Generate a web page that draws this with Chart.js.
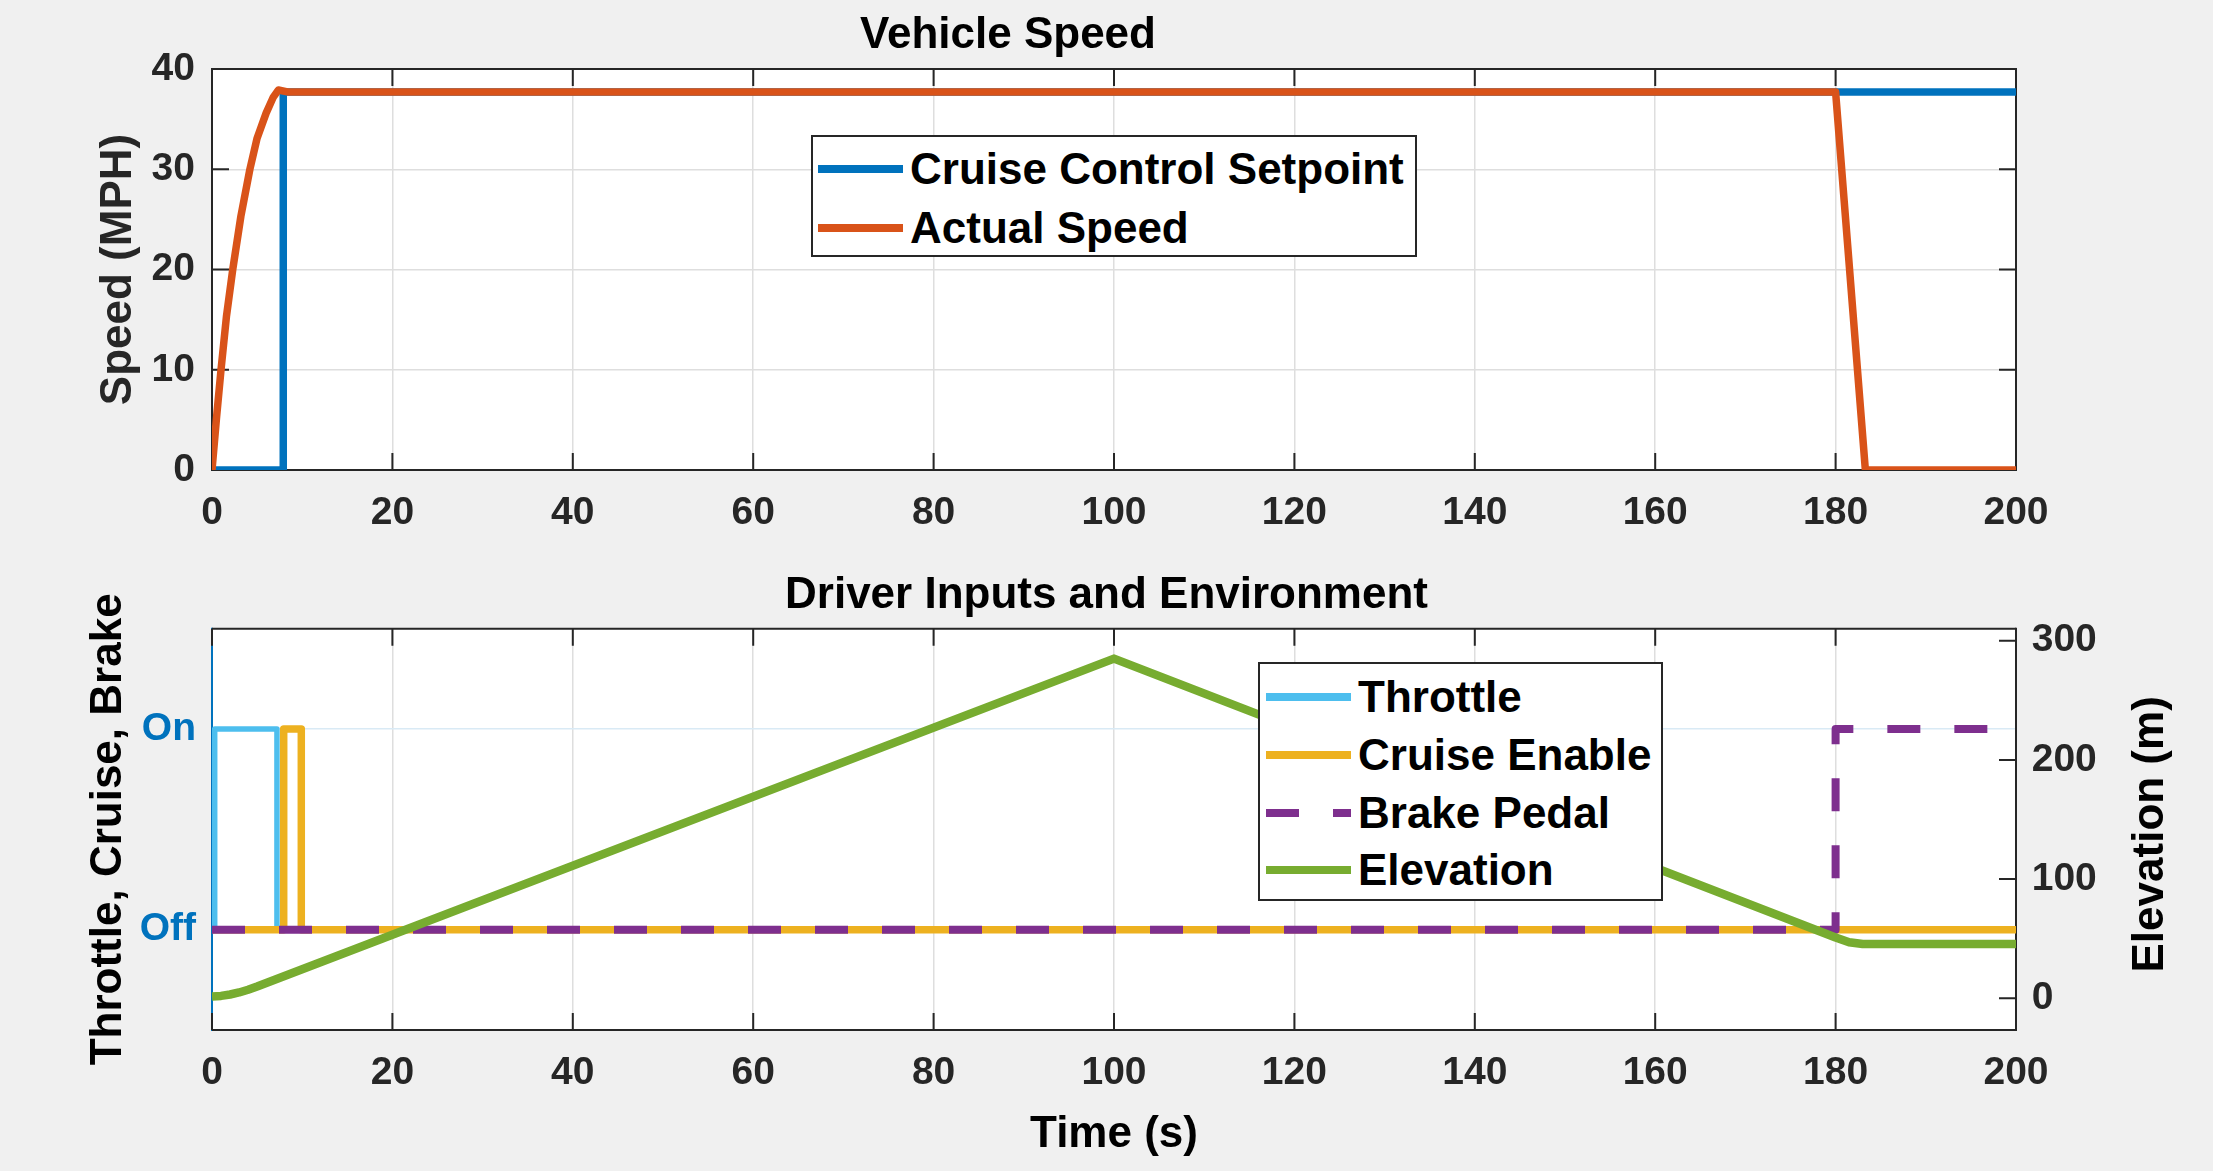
<!DOCTYPE html>
<html lang="en">
<head>
<meta charset="utf-8"/>
<title>Vehicle Speed and Driver Inputs</title>
<script src="https://cdn.jsdelivr.net/npm/chart.js@4.4.1/dist/chart.umd.min.js"></script>
<style>
  html, body { margin: 0; padding: 0; background: #f0f0f0; }
  body { width: 2213px; height: 1171px; position: relative; overflow: hidden;
         font-family: 'Liberation Sans', Arial, Helvetica, sans-serif; }
  canvas { position: absolute; left: 0; }
  #top { top: 0; }
  #bottom { top: 545px; }
  .lgbox { position: absolute; background: #fff; border: 2px solid #262626; box-sizing: border-box; }
  .lgline { position: absolute; height: 8px; }
  .lgtext { position: absolute; height: 52px; font-size: 44px; font-weight: bold; line-height: 52px;
            color: #000; white-space: nowrap; }
</style>
</head>
<body>
<canvas id="top" width="2213" height="545"></canvas>
<canvas id="bottom" width="2213" height="626"></canvas>
<script>
// ---- data ----
// top: vehicle speed (MPH) vs time (s)
const setpointTime = [0, 7.9, 7.9, 200];
const setpointSpeed = [0, 0, 37.7, 37.7];
const actualTime = [0, 0.5, 1, 1.6, 2.3, 3.2, 4.2, 5, 6, 6.8, 7.35, 8.5, 180, 183.3, 200];
const actualSpeed = [0, 5.2, 10, 15.3, 20, 25.3, 30, 33.1, 35.6, 37.2, 37.9, 37.7, 37.7, 0, 0];

// bottom: driver inputs (0 = Off, 1 = On) and elevation (m)
const throttleTime = [0.3, 0.3, 7.2, 7.2, 200];
const throttle = [0, 1, 1, 0, 0];
const cruiseTime = [0, 7.95, 7.95, 9.9, 9.9, 200];
const cruise = [0, 0, 1, 1, 0, 0];
const brakeTime = [0, 180, 180, 200];
const brake = [0, 0, 1, 1];
const elevTime = [0, 1, 2, 3, 4, 5, 100, 180, 181.5, 183, 200];
const elevation = [1.5, 2, 3.2, 4.9, 7.2, 9.9, 285, 51, 47, 45.5, 45.5];

// ticks
const onOffTicks = [0, 1];
const onOffLabels = ['Off', 'On'];
const elevTicks = [0, 100, 200, 300];

const FONT = "'Liberation Sans', Arial, Helvetica, sans-serif";
const DARK = '#262626';
const AXBLUE = '#0072BD';
const GRID = '#dedede';

Chart.defaults.font.family = FONT;
Chart.defaults.font.weight = 'bold';

function pts(xs, ys) {
  return xs.map((x, i) => ({ x: x, y: ys[i] }));
}

// white axes background, box and inward ticks like matlab
const matlabAxes = {
  id: 'matlabAxes',
  beforeDraw(chart) {
    const { ctx, chartArea: a } = chart;
    ctx.save();
    ctx.fillStyle = '#ffffff';
    ctx.fillRect(a.left, a.top, a.right - a.left, a.bottom - a.top);
    ctx.restore();
  },
  beforeDatasetsDraw(chart, args, opts) {
    const { ctx, chartArea: a, scales } = chart;
    const tl = 17;
    const seg = (x1, y1, x2, y2) => { ctx.moveTo(x1, y1); ctx.lineTo(x2, y2); };
    ctx.save();
    ctx.lineWidth = 2;

    const side = (scale, x, dir, color) => {
      ctx.strokeStyle = color;
      ctx.beginPath();
      scale.ticks.forEach(t => {
        const py = scale.getPixelForValue(t.value);
        seg(x, py, x + dir * tl, py);
      });
      seg(x, a.top - 1, x, a.bottom + 1);
      ctx.stroke();
    };
    side(scales[opts.left], a.left, 1, opts.leftColor);
    side(scales[opts.right], a.right, -1, opts.rightColor);

    ctx.strokeStyle = DARK;
    ctx.beginPath();
    scales.x.ticks.forEach(t => {
      const px = scales.x.getPixelForValue(t.value);
      seg(px, a.bottom, px, a.bottom - tl);
      seg(px, a.top, px, a.top + tl);
    });
    seg(a.left, a.top, a.right, a.top);
    seg(a.left, a.bottom, a.right, a.bottom);
    ctx.stroke();
    ctx.restore();
  },
  afterDraw(chart, args, opts) {
    if (!opts.rightTitle) return;
    const { ctx } = chart;
    const s = chart.scales[opts.right];
    ctx.save();
    ctx.translate(s.left + opts.rightTitleOffset, (s.top + s.bottom) / 2 + 5);
    ctx.rotate(-Math.PI / 2);
    ctx.font = 'bold 44px ' + FONT;
    ctx.fillStyle = '#000';
    ctx.textAlign = 'center';
    ctx.textBaseline = 'middle';
    ctx.fillText(opts.rightTitle, 0, 0);
    ctx.restore();
  }
};

const tickFont = { size: 39, weight: 'bold' };
const labelFont = { size: 44, weight: 'bold' };

function xScale(height, title, titlePad) {
  return {
    type: 'linear', min: 0, max: 200,
    ticks: { stepSize: 20, padding: 20, color: DARK, font: tickFont, maxRotation: 0, autoSkip: false },
    grid: { color: GRID, lineWidth: 1.5, drawTicks: false },
    border: { display: false },
    title: { display: !!title, text: title, color: '#000', font: labelFont, padding: { top: 0, bottom: titlePad } },
    afterFit: s => { s.height = height; }
  };
}

const lineDefaults = { pointRadius: 0, fill: false, tension: 0, borderJoinStyle: 'round', borderCapStyle: 'butt' };

// ---- top chart ----
const topChart = new Chart(document.getElementById('top'), {
  type: 'line',
  data: {
    datasets: [
      Object.assign({ label: 'Cruise Control Setpoint', data: pts(setpointTime, setpointSpeed),
        borderColor: '#0072BD', borderWidth: 7.5, order: 1 }, lineDefaults),
      Object.assign({ label: 'Actual Speed', data: pts(actualTime, actualSpeed),
        borderColor: '#D95319', borderWidth: 7.5, order: 0 }, lineDefaults)
    ]
  },
  options: {
    responsive: false, animation: false, devicePixelRatio: 1, events: [],
    layout: { padding: { left: 0, right: 197, top: 0, bottom: 0 } },
    scales: {
      x: xScale(75),
      y: {
        min: 0, max: 40,
        ticks: { stepSize: 10, padding: 17, color: DARK, font: tickFont },
        grid: { color: GRID, lineWidth: 1.5, drawTicks: false },
        border: { display: false },
        title: { display: true, text: 'Speed (MPH)', color: DARK, font: labelFont, padding: { top: 92.6, bottom: 0 } },
        afterFit: s => { s.width = 212; }
      }
    },
    plugins: {
      legend: { display: false },
      tooltip: { enabled: false },
      title: { display: true, text: 'Vehicle Speed', color: '#000', font: labelFont, padding: { top: 9.1, bottom: 7.1 } },
      matlabAxes: { left: 'y', right: 'y', leftColor: DARK, rightColor: DARK }
    }
  },
  plugins: [matlabAxes]
});

// ---- bottom chart ----
const bottomChart = new Chart(document.getElementById('bottom'), {
  type: 'line',
  data: {
    datasets: [
      Object.assign({ label: 'Throttle', data: pts(throttleTime, throttle),
        borderColor: '#4DBEEE', borderWidth: 5.5, yAxisID: 'y', order: 3 }, lineDefaults),
      Object.assign({ label: 'Cruise Enable', data: pts(cruiseTime, cruise),
        borderColor: '#EDB120', borderWidth: 7.5, yAxisID: 'y', order: 2 }, lineDefaults),
      Object.assign({ label: 'Brake Pedal', data: pts(brakeTime, brake),
        borderColor: '#7E2F8E', borderWidth: 8, borderDash: [33, 34], yAxisID: 'y', order: 1 }, lineDefaults),
      Object.assign({ label: 'Elevation', data: pts(elevTime, elevation),
        borderColor: '#77AC30', borderWidth: 8.5, yAxisID: 'y2', order: 0 }, lineDefaults)
    ]
  },
  options: {
    responsive: false, animation: false, devicePixelRatio: 1, events: [],
    layout: { padding: 0 },
    scales: {
      x: xScale(141, 'Time (s)', 9.8),
      y: {
        position: 'left', min: -0.5, max: 1.5,
        afterBuildTicks: s => { s.ticks = onOffTicks.map(v => ({ value: v })); },
        ticks: { padding: 16, color: AXBLUE, font: tickFont, callback: (v, i) => onOffLabels[i] },
        grid: { color: '#d9eaf5', lineWidth: 1.5, drawTicks: false },
        border: { display: false },
        title: { display: true, text: 'Throttle, Cruise, Brake', color: '#000', font: labelFont, padding: { top: 82.6, bottom: 0 } },
        afterFit: s => { s.width = 212; }
      },
      y2: {
        position: 'right', min: -26.6, max: 310.1,
        afterBuildTicks: s => { s.ticks = elevTicks.map(v => ({ value: v })); },
        ticks: { padding: 15.7, color: DARK, font: tickFont },
        grid: { display: false, drawTicks: false },
        border: { display: false },
        afterFit: s => { s.width = 197; }
      }
    },
    plugins: {
      legend: { display: false },
      tooltip: { enabled: false },
      title: { display: true, text: 'Driver Inputs and Environment', color: '#000', font: labelFont, padding: { top: 24.1, bottom: 6.8 } },
      matlabAxes: { left: 'y', right: 'y2', leftColor: AXBLUE, rightColor: DARK,
                    rightTitle: 'Elevation (m)', rightTitleOffset: 134.5 }
    }
  },
  plugins: [matlabAxes]
});

// ---- legends (html, built from the chart datasets) ----
function addLegend(chart, box, rows, lineX, textX) {
  const el = document.createElement('div');
  el.className = 'lgbox';
  el.style.left = box[0] + 'px';
  el.style.top = box[1] + 'px';
  el.style.width = (box[2] - box[0]) + 'px';
  el.style.height = (box[3] - box[1]) + 'px';
  document.body.appendChild(el);
  chart.data.datasets.forEach((ds, i) => {
    const cy = rows[i];
    const ln = document.createElement('div');
    ln.className = 'lgline';
    ln.style.left = lineX[0] + 'px';
    ln.style.width = (lineX[1] - lineX[0]) + 'px';
    ln.style.top = (cy - 4) + 'px';
    if (ds.borderDash) {
      const d = ds.borderDash;
      ln.style.background = 'repeating-linear-gradient(to right, ' + ds.borderColor + ' 0 ' + d[0] + 'px, transparent ' +
        d[0] + 'px ' + (d[0] + d[1]) + 'px)';
    } else {
      ln.style.background = ds.borderColor;
    }
    document.body.appendChild(ln);
    const tx = document.createElement('div');
    tx.className = 'lgtext';
    tx.style.left = textX + 'px';
    tx.style.top = (cy - 26) + 'px';
    tx.textContent = ds.label;
    document.body.appendChild(tx);
  });
}

addLegend(topChart, [811, 135, 1417, 257], [168.5, 228], [818, 903], 910);
addLegend(bottomChart, [1258, 662, 1663, 901], [697, 754.5, 813, 870], [1266, 1351], 1358);
</script>
</body>
</html>
